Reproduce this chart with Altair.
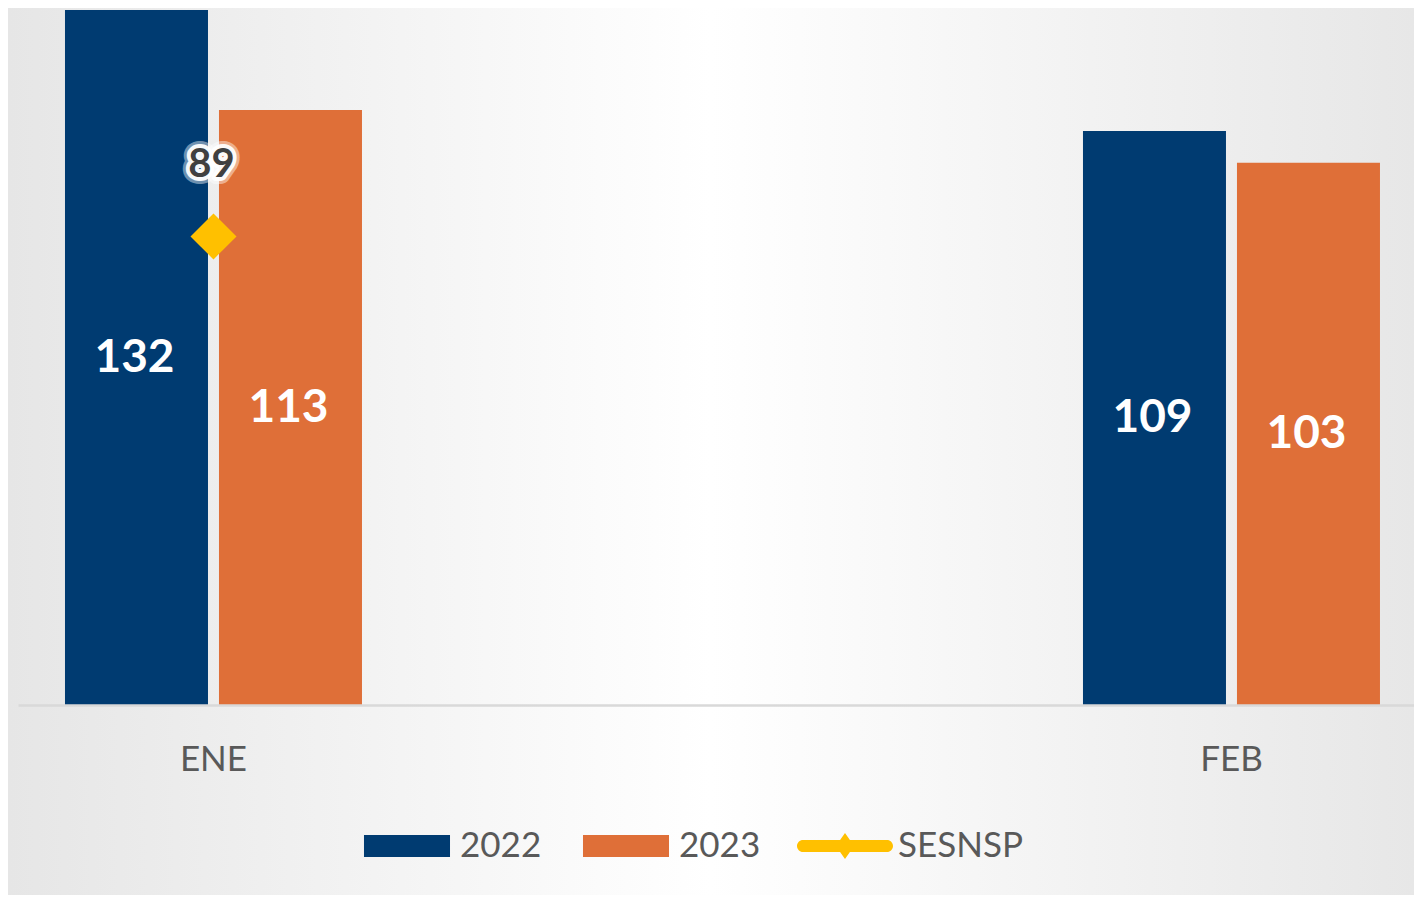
import altair as alt
import pandas as pd

months = ["ENE", "FEB"]
series_names = ["2022", "2023", "SESNSP"]
values_2022 = [132, 109]
values_2023 = [113, 103]
sesnsp_months = ["ENE"]
sesnsp_values = [89]

colors = ["#003B71", "#DF6F38", "#FFC000"]

bars_df = pd.DataFrame(
    {
        "month": months * 2,
        "series": ["2022"] * len(months) + ["2023"] * len(months),
        "value": values_2022 + values_2023,
    }
)
sesnsp_df = pd.DataFrame(
    {"month": sesnsp_months, "series": ["SESNSP"] * len(sesnsp_months), "value": sesnsp_values}
)
bg_df = pd.DataFrame({"k": [0]})

W, H = 1396, 695

rect_path = "M-0.896,-0.229H0.896V0.229H-0.896Z"
line_path = (
    "M-0.875,-0.125H0.875A0.125,0.125 0 0 1 0.875,0.125H-0.875"
    "A0.125,0.125 0 0 1 -0.875,-0.125Z"
    "M0,-0.27L0.19,0L0,0.27L-0.19,0Z"
)

legend = alt.Legend(
    title=None,
    orient="none",
    direction="horizontal",
    legendX=341,
    legendY=788,
    padding=0,
    symbolSize=9216,
    symbolStrokeWidth=0,
    labelFont="Lato",
    labelFontSize=35,
    labelColor="#595959",
    labelOffset=5,
    columnPadding=36,
)

color_enc = alt.Color(
    "series:N",
    scale=alt.Scale(domain=series_names, range=colors),
    legend=legend,
)

x_enc = alt.X(
    "month:N",
    scale=alt.Scale(domain=months, paddingInner=0.70825, paddingOuter=0.03979, align=0.58),
    axis=alt.Axis(
        title=None,
        labelAngle=0,
        ticks=False,
        tickSize=0,
        grid=False,
        zindex=1,
        domainColor="#D9D9D9",
        domainWidth=2.5,
        labelFont="Lato",
        labelFontSize=35,
        labelColor="#595959",
        labelPadding=37,
    ),
)
xoff_enc = alt.XOffset(
    "series:N", scale=alt.Scale(domain=["2022", "2023"], paddingInner=0.0714, paddingOuter=0)
)
y_scale = alt.Scale(domain=[0, 132], nice=False)

background = (
    alt.Chart(bg_df)
    .mark_rect(
        fill=alt.LinearGradient(
            gradient="linear",
            x1=0, y1=0, x2=1, y2=0,
            stops=[
                alt.GradientStop(offset=0, color="#E6E6E6"),
                alt.GradientStop(offset=0.5, color="#FFFFFF"),
                alt.GradientStop(offset=1, color="#E7E7E7"),
            ],
        )
    )
    .encode(x=alt.value(-10), x2=alt.value(W), y=alt.value(-2), y2=alt.value(H + 190))
)

bars = (
    alt.Chart(bars_df)
    .mark_bar()
    .encode(
        x=x_enc,
        xOffset=xoff_enc,
        y=alt.Y("value:Q", scale=y_scale, axis=None),
        color=color_enc,
    )
)

bar_labels = (
    alt.Chart(bars_df)
    .transform_calculate(mid="datum.value / 2")
    .mark_text(color="white", font="Lato", fontWeight="bold", fontSize=46, baseline="middle", dx=-2)
    .encode(
        x=x_enc,
        xOffset=xoff_enc,
        y=alt.Y("mid:Q", scale=y_scale, axis=None),
        text=alt.Text("value:Q"),
    )
)

sesnsp_point = (
    alt.Chart(sesnsp_df)
    .mark_point(filled=True, opacity=1, shape="diamond", size=2116, color="#FFC000", strokeWidth=0)
    .encode(x=x_enc, y=alt.Y("value:Q", scale=y_scale, axis=None))
)

glow_outer = (
    alt.Chart(sesnsp_df)
    .mark_text(
        font="Lato", fontWeight="bold", fontSize=40, baseline="alphabetic", dy=-59, dx=-2,
        color="white", stroke="white", strokeWidth=14, strokeOpacity=0.45, strokeJoin="round",
    )
    .encode(x=x_enc, y=alt.Y("value:Q", scale=y_scale, axis=None), text=alt.Text("value:Q"))
)
glow = (
    alt.Chart(sesnsp_df)
    .mark_text(
        font="Lato", fontWeight="bold", fontSize=40, baseline="alphabetic", dy=-59, dx=-2,
        color="white", stroke="white", strokeWidth=8, strokeOpacity=0.95, strokeJoin="round",
    )
    .encode(x=x_enc, y=alt.Y("value:Q", scale=y_scale, axis=None), text=alt.Text("value:Q"))
)
sesnsp_label = (
    alt.Chart(sesnsp_df)
    .mark_text(font="Lato", fontWeight="bold", fontSize=40, baseline="alphabetic", dy=-59, dx=-2, color="#404040")
    .encode(x=x_enc, y=alt.Y("value:Q", scale=y_scale, axis=None), text=alt.Text("value:Q"))
)

legend_layer = (
    alt.Chart(sesnsp_df)
    .transform_filter("false")
    .mark_point(filled=True, opacity=1, strokeWidth=0)
    .encode(
        x=x_enc,
        y=alt.Y("value:Q", scale=y_scale, axis=None),
        color=color_enc,
        shape=alt.Shape(
            "series:N",
            scale=alt.Scale(domain=series_names, range=[rect_path, rect_path, line_path]),
            legend=legend,
        ),
    )
)

chart = (
    alt.layer(background, bars, bar_labels, sesnsp_point, glow_outer, glow, sesnsp_label, legend_layer)
    .properties(
        width=W,
        height=H,
        padding={"left": 10, "top": 2, "right": 0, "bottom": 190},
        autosize=alt.AutoSizeParams(type="none"),
        background="white",
    )
    .configure_view(stroke=None)
)

chart.save("out.html", embed_options={"renderer": "svg", "actions": False})
